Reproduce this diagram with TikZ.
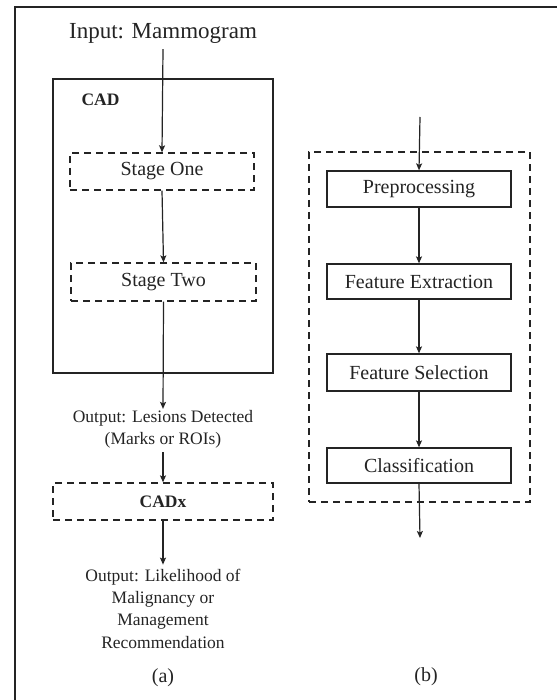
\documentclass[tikz,border=0pt]{standalone}
\usepackage{fontspec}
\setmainfont{Liberation Serif}
\usetikzlibrary{arrows.meta}
\definecolor{ink}{HTML}{242424}
\tikzset{
  px/.style={x=1pt,y=-1pt},
  solidbox/.style={draw=ink,line width=1.3pt,rectangle,inner sep=0pt,font=\fontsize{20}{22}\selectfont,text=ink},
  dashbox/.style={draw=ink,line width=1.3pt,dashed,dash pattern=on 7pt off 5pt,rectangle,inner sep=0pt,font=\fontsize{20}{22}\selectfont,text=ink},
  lbl/.style={inner sep=0pt,align=center,text=ink},
  arr/.style={draw=ink,line width=1.2pt,-{Stealth[length=7pt,width=6pt,inset=1.5pt]}},
}
\begin{document}
\begin{tikzpicture}[px]
\useasboundingbox (0,0) rectangle (556,700);
\fill[white] (0,0) rectangle (556,700);
% outer frame (cropped)
\draw[ink,line width=2pt] (15,701) -- (15,7) -- (557,7);
% (a)
\node[lbl,font=\fontsize{23}{26}\selectfont] (input) at (163,33) {Input: Mammogram};
\node[draw=ink,line width=1.3pt,rectangle,inner sep=0pt,minimum width=220pt,minimum height=294pt] (cad) at (163,226) {};
\node[lbl,font=\fontsize{17.5}{20}\selectfont\bfseries] (cadlabel) at (100.5,100) {CAD};
\node[dashbox,minimum width=184pt,minimum height=37pt] (s1) at (162,171.5) {Stage One};
\node[dashbox,minimum width=185pt,minimum height=38pt] (s2) at (163.5,282) {Stage Two};
\node[lbl,font=\fontsize{17.5}{22}\selectfont] (out1) at (163,429) {Output: Lesions Detected\\(Marks or ROIs)};
\node[dashbox,font=\fontsize{17.5}{20}\selectfont\bfseries,minimum width=220pt,minimum height=37pt] (cadx) at (163,501.5) {CADx};
\node[lbl,font=\fontsize{17.5}{22.3}\selectfont] (out2) at (163,608.5) {Output: Likelihood of\\Malignancy or\\Management\\Recommendation};
\node[lbl,font=\fontsize{20}{22}\selectfont] (capa) at (163,678) {(a)};
\draw[arr] ([yshift=-6pt]input.south) -- (s1.north);
\draw[arr] (s1.south) -- (s2.north);
\draw[arr] (s2.south) -- ([yshift=1pt]out1.north);
\draw[arr] ([yshift=-4pt]out1.south) -- (cadx.north);
\draw[arr] (cadx.south) -- ([yshift=4pt]out2.north);
% (b)
\coordinate (bin) at (420,117);
\node[draw=ink,line width=1.3pt,dashed,dash pattern=on 7pt off 5pt,rectangle,inner sep=0pt,minimum width=221pt,minimum height=350pt] (frame) at (419.5,327) {};
\node[solidbox,minimum width=184pt,minimum height=36pt] (pre) at (419,189) {Preprocessing};
\node[solidbox,minimum width=184pt,minimum height=35pt] (fe) at (419,281.5) {Feature Extraction};
\node[solidbox,minimum width=184pt,minimum height=37pt] (fs) at (419,372.5) {Feature Selection};
\node[solidbox,minimum width=184pt,minimum height=35pt] (cl) at (419,465.5) {Classification};
\coordinate (bout) at (420,538);
\node[lbl,font=\fontsize{20}{22}\selectfont] (capb) at (426,677) {(b)};
\draw[arr] (bin) -- (pre.north);
\draw[arr] (pre.south) -- (fe.north);
\draw[arr] (fe.south) -- (fs.north);
\draw[arr] (fs.south) -- (cl.north);
\draw[arr] (cl.south) -- (bout);
\end{tikzpicture}
\end{document}
